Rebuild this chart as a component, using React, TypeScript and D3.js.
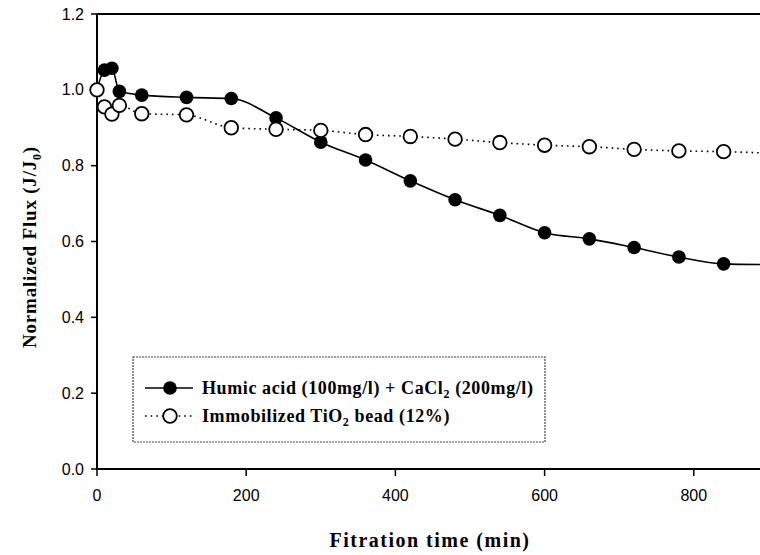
import React from "react";
import * as d3 from "d3";

const times = [0, 10, 20, 30, 60, 120, 180, 240, 300, 360, 420, 480, 540, 600, 660, 720, 780, 840, 900];
const humic = [1.0, 1.052, 1.057, 0.996, 0.986, 0.98, 0.977, 0.926, 0.862, 0.815, 0.76, 0.71, 0.669, 0.623, 0.607, 0.584, 0.559, 0.541, 0.539];
const tio2 = [1.0, 0.955, 0.936, 0.959, 0.937, 0.934, 0.9, 0.896, 0.893, 0.882, 0.877, 0.87, 0.861, 0.854, 0.85, 0.843, 0.839, 0.837, 0.833];
const xTicks = [0, 200, 400, 600, 800];
const yTicks = [0, 0.2, 0.4, 0.6, 0.8, 1.0, 1.2];

const W = 760;
const H = 555;

export default function App() {
  const x = d3.scaleLinear().domain([0, 900]).range([97, 768.4]);
  const y = d3.scaleLinear().domain([0, 1.2]).range([469, 14]);
  const lineH = d3
    .line<number>()
    .x((_, i) => x(times[i]))
    .y((d) => y(d))
    .curve(d3.curveMonotoneX);
  const lineT = d3
    .line<number>()
    .x((_, i) => x(times[i]))
    .y((d) => y(d))
    .curve(d3.curveMonotoneX);
  const serif = "'Liberation Serif', 'Times New Roman', serif";
  const sans = "'Liberation Sans', Arial, sans-serif";
  const r = 6.8;
  return (
    <svg width={W} height={H} style={{ position: "absolute", left: 0, top: 0, background: "#fff" }}>
      <defs>
        <clipPath id="clip">
          <rect x={0} y={0} width={W} height={H} />
        </clipPath>
      </defs>
      {/* frame */}
      <line x1={x(0)} x2={W} y1={y(1.2)} y2={y(1.2)} stroke="#000" strokeWidth={2} />
      <line x1={x(0)} x2={W} y1={y(0)} y2={y(0)} stroke="#000" strokeWidth={2} />
      <line x1={x(0)} x2={x(0)} y1={y(1.2)} y2={y(0) + 1} stroke="#000" strokeWidth={2} />
      {/* y ticks */}
      {yTicks.map((t) => (
        <g key={"y" + t}>
          <line x1={x(0) - 6} x2={x(0)} y1={y(t)} y2={y(t)} stroke="#000" strokeWidth={1.5} />
          <text x={x(0) - 13} y={y(t) + 5.5} textAnchor="end" fontFamily={sans} fontSize={16}>
            {t.toFixed(1)}
          </text>
        </g>
      ))}
      {/* x ticks */}
      {xTicks.map((t) => (
        <g key={"x" + t}>
          <line x1={x(t)} x2={x(t)} y1={y(0)} y2={y(0) + 7} stroke="#000" strokeWidth={1.5} />
          <text x={x(t)} y={y(0) + 32} textAnchor="middle" fontFamily={sans} fontSize={16}>
            {t}
          </text>
        </g>
      ))}
      {/* axis titles */}
      <text x={430} y={547} textAnchor="middle" fontFamily={serif} fontWeight="bold" fontSize={20} letterSpacing={1.5}>
        Fitration time (min)
      </text>
      <text
        transform={`translate(36, ${247}) rotate(-90)`}
        textAnchor="middle"
        fontFamily={serif}
        fontWeight="bold"
        fontSize={19}
        letterSpacing={0.8}
      >
        Normalized Flux (J/J
        <tspan fontSize={12} dy={5}>0</tspan>
        <tspan dy={-5}>)</tspan>
      </text>
      {/* lines */}
      <g clipPath="url(#clip)">
        <path d={lineH(humic) || ""} fill="none" stroke="#000" strokeWidth={1.6} />
        <path d={lineT(tio2) || ""} fill="none" stroke="#000" strokeWidth={1.6} strokeDasharray="1.6,4" />
        {humic.map((v, i) => (
          <circle key={"h" + i} cx={x(times[i])} cy={y(v)} r={r} fill="#000" />
        ))}
        {tio2.map((v, i) => (
          <circle key={"t" + i} cx={x(times[i])} cy={y(v)} r={r} fill="#fff" stroke="#000" strokeWidth={1.8} />
        ))}
      </g>
      {/* legend */}
      <rect x={133} y={357} width={412} height={85} fill="#fff" stroke="#444" strokeWidth={1.2} strokeDasharray="2,1" />
      <line x1={145} x2={193} y1={388} y2={388} stroke="#000" strokeWidth={1.6} />
      <circle cx={170} cy={388} r={r} fill="#000" />
      <line x1={145} x2={193} y1={416} y2={416} stroke="#000" strokeWidth={1.6} strokeDasharray="1.6,4" />
      <circle cx={170} cy={416} r={r} fill="#fff" stroke="#000" strokeWidth={1.8} />
      <text x={202} y={394} fontFamily={serif} fontWeight="bold" fontSize={18} letterSpacing={0.6}>
        Humic acid (100mg/l) + CaCl
        <tspan fontSize={12} dy={4}>2</tspan>
        <tspan dy={-4}>{"\u00a0"}(200mg/l)</tspan>
      </text>
      <text x={202} y={422} fontFamily={serif} fontWeight="bold" fontSize={18} letterSpacing={0.6}>
        Immobilized TiO
        <tspan fontSize={12} dy={4}>2</tspan>
        <tspan dy={-4}> bead (12%)</tspan>
      </text>
    </svg>
  );
}
